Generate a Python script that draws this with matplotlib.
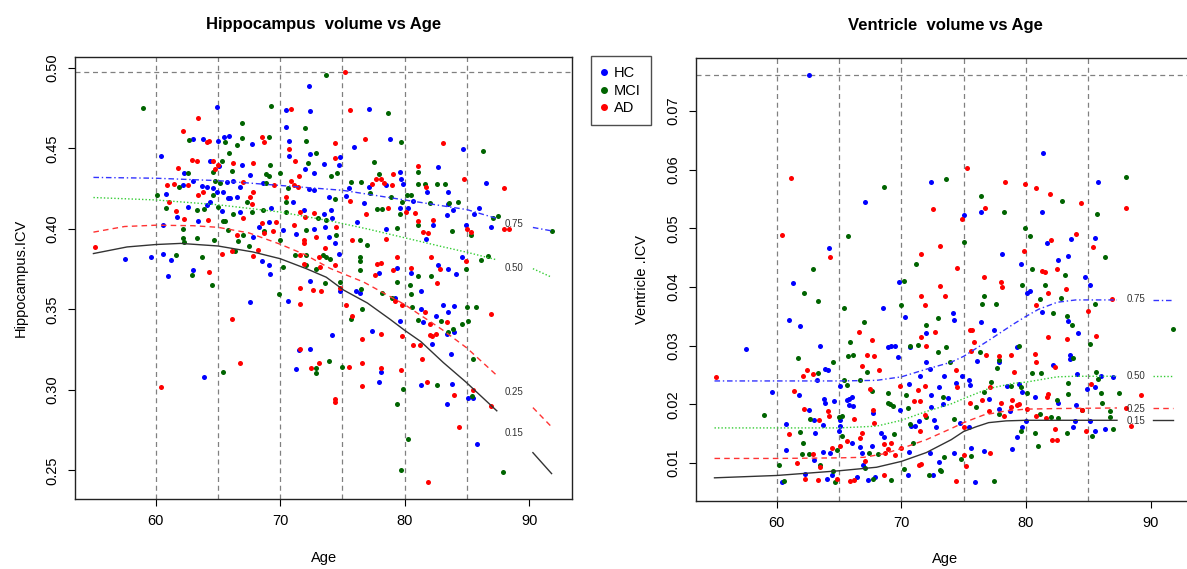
import numpy as np
import matplotlib
matplotlib.use("Agg")
import matplotlib.pyplot as plt
from matplotlib.lines import Line2D

plt.rcParams['font.family'] = ['Liberation Sans', 'DejaVu Sans']

# ---------------- Hippocampus panel data (age, volume/ICV) ----------------
hc_age_l = [64.9, 70.5, 72.3, 72.4, 70.5, 63.0, 63.8, 65.0, 65.5, 65.9, 67.7, 70.7, 70.7, 72.4, 60.4, 65.1,
            64.4, 66.9, 73.5, 62.3, 67.6, 72.0, 72.7, 62.2, 63.0, 63.7, 64.1, 64.6, 65.7, 66.2, 66.8, 68.6,
            72.3, 72.7, 60.8, 64.9, 65.4, 65.8, 66.0, 61.7, 62.6, 64.1, 63.4, 64.4, 65.3, 66.8, 69.3, 69.1,
            71.9, 60.6, 67.8, 70.2, 71.3, 72.7, 57.5, 59.6, 60.6, 61.2, 61.0, 63.0, 68.5, 69.1, 69.2, 68.3,
            66.5, 71.0,
            77.1, 75.9, 78.8, 84.7, 74.8, 74.7, 82.7, 79.6, 79.7, 79.9, 77.1, 78.5, 81.8, 83.5, 86.5, 75.5,
            73.9, 76.7, 79.6, 80.3, 80.7, 82.3, 83.4, 83.5, 83.9, 84.9, 85.6, 86.0, 86.9, 73.5, 74.1, 74.2,
            73.6, 73.9, 76.2, 78.5, 81.7, 84.6, 74.4, 74.7, 79.4, 82.7, 83.5, 84.1, 80.5, 77.9, 75.3,
            70.6, 72.4, 74.8, 76.1, 76.4, 79.2, 81.3, 81.3, 74.2, 77.4, 79.6, 81.5, 82.5, 83.5, 84.0, 83.1,
            82.2, 83.4, 84.0, 83.7, 71.5, 72.4, 71.3, 78.1, 77.9, 81.3, 83.8, 85.1, 85.5, 83.4, 85.8, 63.9,
            67.6]
hc_val_l = [0.4755, 0.474, 0.489, 0.473, 0.4635, 0.456, 0.456, 0.4545, 0.457, 0.458, 0.453, 0.4545, 0.445, 0.4465, 0.445, 0.439,
            0.442, 0.440, 0.4405, 0.4345, 0.4335, 0.437, 0.4345, 0.4273, 0.430, 0.4268, 0.426, 0.4256, 0.4293, 0.4297, 0.426, 0.4283,
            0.425, 0.424, 0.4214, 0.4227, 0.4231, 0.419, 0.4194, 0.4075, 0.4135, 0.4148, 0.405, 0.417, 0.4113, 0.4106, 0.4127, 0.4044,
            0.4115, 0.4023, 0.395, 0.3996, 0.397, 0.400, 0.3815, 0.3826, 0.3845, 0.381, 0.3707, 0.3743, 0.380, 0.3774, 0.3722, 0.4015,
            0.420, 0.4165,
            0.4744, 0.4512, 0.456, 0.4497, 0.4449, 0.4397, 0.4385, 0.4352, 0.431, 0.4281, 0.4262, 0.4273, 0.4227, 0.4231, 0.4287, 0.4256,
            0.420, 0.4158, 0.4131, 0.4131, 0.4175, 0.4027, 0.4085, 0.4154, 0.4117, 0.4023, 0.409, 0.4133, 0.4009, 0.409, 0.4117, 0.4065,
            0.4013, 0.395, 0.4044, 0.3998, 0.3936, 0.3826, 0.3913, 0.3842, 0.3759, 0.3778, 0.3753, 0.3718, 0.3724, 0.3728, 0.4205,
            0.3554, 0.3676, 0.3616, 0.3614, 0.360, 0.3568, 0.3502, 0.3616, 0.3344, 0.3365, 0.343, 0.3419, 0.346, 0.3481, 0.3521, 0.3525,
            0.3288, 0.335, 0.3357, 0.3226, 0.3247, 0.3255, 0.3128, 0.3112, 0.305, 0.3033, 0.3039, 0.2952, 0.2948, 0.2911, 0.2666, 0.3081,
            0.3548]

mci_age_l = [59.0, 69.3, 66.9, 72.0, 62.7, 65.6, 66.5, 66.9, 69.1, 72.1, 72.9, 65.9, 65.3, 69.2, 72.2, 62.6,
             64.6, 66.1, 68.9, 69.1, 70.0, 61.9, 64.8, 65.2, 68.9, 70.6, 60.1, 64.6, 67.3, 70.5, 60.8, 63.3,
             63.9, 65.0, 65.4, 65.6, 66.2, 67.7, 68.6, 70.5, 73.0, 73.7, 62.2, 62.2, 62.3, 63.3, 64.7, 65.8,
             67.0, 68.7, 70.0, 72.1, 61.6, 63.7, 62.9, 66.4, 67.5, 70.2, 71.2, 72.1, 73.7, 72.9, 72.1, 66.6,
             73.7, 78.7, 79.7, 86.3, 77.5, 81.1, 77.9, 74.6, 74.1, 75.7, 76.5, 81.1, 81.6, 82.6, 83.2, 74.4,
             77.2, 77.8, 78.2, 78.9, 79.6, 79.8, 80.2, 80.5, 81.1, 82.0, 84.3, 83.8, 85.3, 87.1, 87.5, 91.8,
             74.5, 76.4, 77.0, 79.4, 86.1, 86.7, 73.4, 74.0, 76.4, 76.4, 84.9, 76.4, 81.1, 82.1, 83.6,
             64.5, 69.9, 73.6, 74.8, 76.5, 78.2, 75.7, 76.6, 79.0, 79.4, 80.6, 80.4, 80.5, 81.1, 82.9, 85.0,
             85.7, 85.1, 84.6, 83.5, 83.9, 72.9, 72.9, 73.9, 75.0, 79.9, 82.6, 85.5, 85.4, 79.4, 80.3, 79.7,
             87.9, 65.4]
mci_val_l = [0.475, 0.4765, 0.466, 0.463, 0.455, 0.454, 0.452, 0.4565, 0.457, 0.4545, 0.447, 0.447, 0.442, 0.440, 0.441, 0.435,
             0.4356, 0.4358, 0.434, 0.433, 0.4347, 0.426, 0.430, 0.4283, 0.4283, 0.4255, 0.421, 0.421, 0.4169, 0.4169, 0.4127, 0.4117,
             0.4123, 0.4135, 0.405, 0.405, 0.409, 0.4106, 0.4115, 0.4106, 0.4065, 0.4058, 0.400, 0.3944, 0.392, 0.3944, 0.3934, 0.3992,
             0.396, 0.3985, 0.393, 0.3995, 0.384, 0.3826, 0.3716, 0.386, 0.3892, 0.3763, 0.3836, 0.3836, 0.3826, 0.3753, 0.3778, 0.3925,
             0.4954, 0.472, 0.4537, 0.4487, 0.4414, 0.4352, 0.4339, 0.435, 0.433, 0.4291, 0.4291, 0.4277, 0.4281, 0.4277, 0.4281, 0.4185,
             0.4225, 0.4121, 0.4121, 0.420, 0.4092, 0.4169, 0.421, 0.421, 0.4023, 0.4158, 0.4165, 0.399, 0.3961, 0.4069, 0.408, 0.3988,
             0.3961, 0.3934, 0.3903, 0.4007, 0.3809, 0.383, 0.3836, 0.3815, 0.3828, 0.3801, 0.3749, 0.3747, 0.3707, 0.3707, 0.416,
             0.365, 0.3595, 0.3666, 0.367, 0.3625, 0.360, 0.3438, 0.3504, 0.3568, 0.3672, 0.3517, 0.365, 0.3593, 0.3434, 0.3425, 0.3517,
             0.3517, 0.3429, 0.3407, 0.3357, 0.3378, 0.3137, 0.3106, 0.3178, 0.3143, 0.3004, 0.3033, 0.3189, 0.2962, 0.2911, 0.2693, 0.2504,
             0.2487, 0.311]

ad_age_l = [70.9, 63.4, 62.2, 64.1, 64.3, 68.5, 68.7, 70.7, 64.6, 62.9, 63.3, 66.2, 67.8, 71.2, 61.8, 64.8,
            65.0, 70.9, 71.5, 60.9, 61.5, 62.6, 67.0, 69.5, 71.1, 71.4, 63.4, 63.8, 67.8, 67.6, 70.5, 61.1,
            62.3, 61.6, 64.2, 67.0, 67.7, 68.5, 69.7, 71.6, 72.7, 72.0, 68.7, 69.4, 71.1, 71.9, 71.9, 72.9,
            55.1, 64.3, 65.3, 66.1, 67.8, 68.2, 71.9, 73.1, 73.2, 71.6, 66.5,
            75.2, 75.6, 74.4, 76.8, 83.1, 74.4, 81.1, 79.1, 78.1, 78.3, 77.7, 77.4, 79.0, 81.7, 84.8, 88.0,
            75.6, 78.7, 76.9, 80.1, 80.8, 81.1, 81.5, 81.9, 82.3, 85.0, 85.3, 88.0, 88.4, 75.8, 78.5, 73.6,
            74.4, 77.8, 78.1, 79.1, 79.4, 80.5, 82.1, 82.8, 77.6, 74.5, 84.9,
            71.6, 71.6, 72.6, 73.3, 74.8, 75.3, 75.8, 79.2, 79.8, 81.6, 82.6, 78.1, 76.6, 82.0, 83.4, 79.8,
            80.7, 81.2, 82.0, 82.2, 82.5, 86.9, 71.6, 72.5, 73.1, 75.5, 76.6, 76.6, 78.1, 79.7, 81.4, 81.8,
            85.5, 84.0, 86.9, 84.4, 81.9, 60.4, 66.8, 66.1, 74.4, 74.4]
ad_val_l = [0.4745, 0.469, 0.461, 0.454, 0.4545, 0.457, 0.454, 0.4495, 0.442, 0.443, 0.442, 0.441, 0.441, 0.4425, 0.4377, 0.437,
            0.440, 0.430, 0.433, 0.4275, 0.428, 0.4273, 0.4293, 0.4273, 0.4273, 0.4262, 0.421, 0.423, 0.4231, 0.420, 0.420, 0.4169,
            0.406, 0.411, 0.4057, 0.4065, 0.4154, 0.4034, 0.4044, 0.4106, 0.4096, 0.4073, 0.3975, 0.3988, 0.4023, 0.3934, 0.391, 0.395,
            0.3886, 0.3734, 0.3847, 0.386, 0.383, 0.3867, 0.3784, 0.3826, 0.3763, 0.3836, 0.396,
            0.4973, 0.4736, 0.4532, 0.456, 0.4532, 0.4439, 0.4393, 0.4341, 0.4308, 0.4287, 0.4308, 0.4277, 0.427, 0.4262, 0.4308, 0.4252,
            0.4175, 0.4131, 0.4092, 0.4106, 0.4096, 0.405, 0.3978, 0.3975, 0.4054, 0.4002, 0.3978, 0.4002, 0.3998, 0.393, 0.3936, 0.3884,
            0.3774, 0.378, 0.3786, 0.3747, 0.3826, 0.3759, 0.3826, 0.3749, 0.3716, 0.4015, 0.380,
            0.3533, 0.363, 0.362, 0.3616, 0.363, 0.3527, 0.3458, 0.3552, 0.3527, 0.3485, 0.3666, 0.335, 0.3319, 0.3407, 0.3419, 0.3336,
            0.3278, 0.3278, 0.3344, 0.3336, 0.3346, 0.3471, 0.3253, 0.3139, 0.3164, 0.3143, 0.3164, 0.3023, 0.3139, 0.3126, 0.3189, 0.305,
            0.2998, 0.2967, 0.2898, 0.2769, 0.2427, 0.3018, 0.317, 0.3438, 0.2946, 0.2923]

# centile curves (hippocampus)
q75_age_l = [55, 60, 65, 70, 75, 80, 85, 87.4]
q75_val_l = [0.432, 0.4315, 0.430, 0.427, 0.424, 0.418, 0.412, 0.4065]
q50_age_l = [55, 60, 65, 70, 74, 77, 80, 83, 85, 87.3]
q50_val_l = [0.4195, 0.418, 0.415, 0.4105, 0.405, 0.400, 0.3945, 0.389, 0.3855, 0.381]
q25_age_l = [55, 57.5, 60, 63, 65, 67.5, 70, 72, 74, 76.7, 80, 83, 85, 87.4]
q25_val_l = [0.398, 0.4015, 0.4023, 0.402, 0.401, 0.3975, 0.3905, 0.384, 0.3755, 0.367, 0.353, 0.3375, 0.326, 0.309]
q15_age_l = [55, 57.7, 60, 62, 65, 67.8, 70, 72.1, 73.7, 75.1, 77.0, 78.8, 80, 81.3, 83.1, 84.9, 87.4]
q15_val_l = [0.3847, 0.3888, 0.3903, 0.391, 0.3894, 0.3857, 0.3815, 0.3753, 0.370, 0.362, 0.354, 0.344, 0.337, 0.330, 0.317, 0.305, 0.287]
tail_age_l = [90.3, 91.8]
tail75_l = [0.4009, 0.3988]
tail50_l = [0.3753, 0.370]
tail25_l = [0.289, 0.277]
tail15_l = [0.261, 0.248]
lab_val_l = [0.403, 0.376, 0.2987, 0.273]

# ---------------- Ventricle panel data ----------------
hc_age_r = [62.6, 64.2, 67.1, 72.4, 75.0, 76.4, 78.1, 79.6, 81.4, 81.3, 81.7, 82.6, 83.4, 83.6, 85.8, 85.5, 84.7,
            57.5, 59.6, 61.3, 61.0, 61.9, 63.5, 63.9, 64.1, 63.2, 61.8, 62.6, 63.8, 63.9, 64.6, 63.0, 63.7,
            60.7, 63.1, 60.7, 63.0, 63.7, 60.4, 62.3, 64.0, 64.3, 65.0, 65.1, 65.1, 65.1, 65.6, 65.8, 66.0,
            65.8, 66.1, 67.7, 66.0, 66.7, 66.8, 66.9, 67.6, 66.4, 67.3, 67.9, 68.4, 68.6, 68.9, 69.2, 69.5,
            68.5, 69.8, 69.7, 70.6, 70.3, 72.0, 70.7, 72.0, 71.5, 72.3, 73.0, 72.4, 70.8, 71.1, 71.4, 72.6,
            72.8, 72.4, 70.6, 70.5, 72.5, 73.0, 72.3, 64.4, 69.9, 73.3,
            80.3, 80.1, 85.1, 81.3, 74.1, 74.2, 76.4, 77.4, 76.1, 77.8, 79.3, 73.4, 74.4, 74.9, 75.4, 75.5,
            77.0, 78.5, 79.4, 77.8, 78.7, 79.7, 80.7, 82.6, 82.2, 83.5, 83.5, 83.4, 84.2, 84.1, 84.0, 84.9,
            85.5, 87.0, 83.9, 83.8, 85.1, 85.5, 80.0, 79.7, 79.3, 78.9, 75.4, 74.7, 75.6, 76.6, 74.2, 75.9,
            73.7, 86.3, 86.0]
hc_val_r = [0.0761, 0.0466, 0.0545, 0.0579, 0.0523, 0.0528, 0.0456, 0.044, 0.0629, 0.0528, 0.0475, 0.0446, 0.0452, 0.0481, 0.0579, 0.0484, 0.0417,
            0.0295, 0.0221, 0.0406, 0.0343, 0.0334, 0.0299, 0.0261, 0.0259, 0.0241, 0.0216, 0.019, 0.021, 0.0203, 0.0205, 0.0173, 0.0165,
            0.0166, 0.0152, 0.0123, 0.0105, 0.0119, 0.0068, 0.0081, 0.0073, 0.0117, 0.0154, 0.0164, 0.0173, 0.0232, 0.0208, 0.021, 0.0212,
            0.0199, 0.0197, 0.0185, 0.0135, 0.0128, 0.0118, 0.0097, 0.013, 0.0076, 0.0071, 0.0077, 0.0152, 0.0145, 0.0298, 0.0299, 0.030,
            0.0364, 0.0408, 0.028, 0.0234, 0.0349, 0.0322, 0.0298, 0.0272, 0.0249, 0.026, 0.023, 0.0216, 0.0164, 0.0164, 0.0171, 0.0174,
            0.0162, 0.0196, 0.0119, 0.008, 0.0079, 0.0102, 0.0117, 0.008, 0.019, 0.020,
            0.0394, 0.0389, 0.0403, 0.0358, 0.0356, 0.0344, 0.0341, 0.0326, 0.0274, 0.0272, 0.0297, 0.0249, 0.0236, 0.0249, 0.0241, 0.0233,
            0.0209, 0.0231, 0.0234, 0.0193, 0.0189, 0.0221, 0.0212, 0.0202, 0.0267, 0.0284, 0.0277, 0.0342, 0.0321, 0.0252, 0.0199, 0.0226,
            0.023, 0.0247, 0.0171, 0.0162, 0.0171, 0.0154, 0.0171, 0.0162, 0.0145, 0.0124, 0.0162, 0.0168, 0.0125, 0.0121, 0.0117, 0.0068,
            0.0211, 0.0158, 0.0248]

mci_age_r = [62.9, 68.6, 65.7, 73.6, 71.2, 75.0, 76.4, 78.2, 79.9, 80.3, 80.5, 82.9, 83.1, 85.7, 86.3, 88.0,
             59.0, 62.2, 63.3, 61.7, 63.3, 64.5, 62.7, 61.9, 62.1, 62.0, 62.6, 60.2, 60.6, 63.5, 64.7, 64.8,
             65.2, 65.0, 65.2, 65.6, 65.4, 67.0, 65.9, 65.7, 66.1, 65.4, 67.2, 66.7, 67.6, 67.4, 67.1, 67.7,
             68.1, 69.2, 68.9, 69.1, 69.3, 68.9, 70.0, 70.2, 70.4, 70.5, 70.7, 72.9, 72.0, 71.3, 72.9, 73.6,
             73.3, 70.7, 70.9, 70.2, 72.2, 73.2, 64.5, 69.4, 72.0,
             76.6, 76.5, 77.6, 79.7, 81.5, 81.1, 82.8, 85.5, 82.2, 76.3, 77.8, 77.7, 79.4, 73.9, 76.6, 77.2,
             78.8, 79.6, 77.8, 80.1, 81.1, 82.0, 82.6, 82.5, 83.4, 81.2, 80.5, 83.8, 83.7, 83.3, 85.1, 85.6,
             83.4, 85.8, 86.0, 86.1, 86.7, 87.5, 91.8, 86.7, 83.3, 85.3, 87.0, 80.7, 81.0, 79.6, 75.6, 77.4,
             74.8, 73.4, 73.1, 74.2, 76.0, 84.5]
mci_val_r = [0.0431, 0.057, 0.0487, 0.0584, 0.044, 0.0477, 0.0555, 0.0528, 0.050, 0.0487, 0.0431, 0.0547, 0.0421, 0.0524, 0.0451, 0.0588,
             0.0182, 0.0389, 0.0377, 0.0279, 0.0254, 0.0273, 0.0176, 0.0153, 0.0134, 0.0115, 0.0116, 0.0096, 0.0069, 0.0097, 0.0068, 0.0123,
             0.0146, 0.0179, 0.0181, 0.0233, 0.0241, 0.0341, 0.0307, 0.0282, 0.0284, 0.0364, 0.0256, 0.0241, 0.0223, 0.0117, 0.0092, 0.0073,
             0.0116, 0.0072, 0.0202, 0.020, 0.0198, 0.0219, 0.037, 0.0411, 0.0216, 0.0194, 0.030, 0.0347, 0.0336, 0.0301, 0.0289, 0.0298,
             0.0213, 0.0166, 0.0134, 0.009, 0.008, 0.0086, 0.0086, 0.015, 0.0178,
             0.0385, 0.0371, 0.0371, 0.0403, 0.0404, 0.038, 0.0381, 0.0371, 0.0356, 0.029, 0.0276, 0.0262, 0.030, 0.0272, 0.0221, 0.0238,
             0.0231, 0.023, 0.0184, 0.022, 0.0183, 0.0178, 0.0177, 0.0207, 0.0217, 0.0254, 0.0254, 0.0279, 0.0336, 0.0351, 0.0303, 0.0256,
             0.0236, 0.0243, 0.0219, 0.0203, 0.0189, 0.022, 0.0329, 0.0178, 0.0151, 0.0147, 0.0158, 0.0151, 0.0129, 0.0154, 0.0113, 0.007,
             0.0107, 0.011, 0.0088, 0.0175, 0.0195, 0.019]

ad_age_r = [61.1, 60.4, 64.3, 72.5, 71.6, 73.1, 74.5, 75.3, 74.9, 76.7, 76.6, 78.3, 79.9, 79.8, 80.8, 81.9,
            82.0, 81.3, 81.5, 82.5, 84.0, 84.4, 85.4, 88.0,
            55.1, 62.4, 62.9, 62.1, 61.4, 62.2, 64.1, 64.2, 63.4, 61.0, 62.9, 61.6, 62.3, 63.3, 63.5, 64.8,
            64.4, 66.2, 66.6, 67.6, 67.2, 67.8, 66.8, 68.2, 67.5, 67.7, 65.6, 65.1, 66.7, 66.8, 67.1, 65.9,
            66.2, 68.6, 68.7, 68.6, 68.9, 69.5, 69.2, 67.8, 69.9, 71.0, 71.6, 71.9, 73.1, 71.6, 72.7, 71.9,
            71.3, 71.5, 71.9, 71.5, 71.4, 71.6, 73.5, 70.0, 72.0,
            78.0, 78.1, 83.2, 81.8, 85.0, 86.9, 80.8, 75.5, 75.7, 75.8, 76.8, 75.6, 77.8, 79.0, 78.8, 74.4,
            74.5, 75.5, 76.5, 77.1, 78.9, 78.0, 77.0, 78.8, 79.3, 79.4, 80.1, 81.7, 81.8, 81.6, 80.8, 80.7,
            81.8, 83.3, 82.3, 85.6, 85.2, 89.2, 88.0, 88.4, 84.8, 82.3, 82.1, 82.5, 78.2, 75.0, 77.1, 75.0,
            75.2, 74.4, 84.5, 80.8]
ad_val_r = [0.0586, 0.0489, 0.0451, 0.0533, 0.0456, 0.047, 0.0432, 0.0602, 0.0516, 0.0535, 0.0417, 0.0579, 0.0575, 0.0461, 0.0569, 0.0558,
            0.048, 0.0428, 0.0426, 0.0431, 0.049, 0.0543, 0.0468, 0.0535,
            0.0247, 0.0259, 0.0251, 0.0249, 0.0223, 0.0192, 0.0188, 0.0181, 0.0173, 0.015, 0.0116, 0.010, 0.0073, 0.0072, 0.0093, 0.0073,
            0.0125, 0.0175, 0.0324, 0.0309, 0.0285, 0.0282, 0.0266, 0.0258, 0.0227, 0.019, 0.0137, 0.013, 0.0142, 0.0151, 0.0103, 0.0069,
            0.0071, 0.008, 0.0117, 0.0132, 0.0124, 0.0114, 0.0135, 0.0168, 0.0231, 0.0206, 0.0384, 0.037, 0.0401, 0.0315, 0.0324, 0.0231,
            0.0224, 0.0205, 0.0182, 0.0155, 0.0096, 0.0098, 0.0384, 0.0125, 0.030,
            0.0408, 0.040, 0.0397, 0.039, 0.0359, 0.0379, 0.0369, 0.0326, 0.0326, 0.0306, 0.0285, 0.0291, 0.0283, 0.0256, 0.0284, 0.0259,
            0.023, 0.0202, 0.0208, 0.023, 0.0208, 0.0202, 0.0188, 0.0196, 0.0199, 0.0201, 0.0193, 0.0213, 0.0217, 0.0177, 0.0272, 0.0286,
            0.0315, 0.0312, 0.0263, 0.0316, 0.0234, 0.0216, 0.0194, 0.0163, 0.0154, 0.0159, 0.014, 0.0139, 0.018, 0.0162, 0.0117, 0.0114,
            0.0095, 0.0069, 0.019, 0.018]

# centile curves (ventricle)
q75_age_r = [55, 60, 65, 68, 70, 72, 74, 75, 77, 79, 80, 81, 82.5, 84, 87.3]
q75_val_r = [0.0240, 0.0240, 0.0240, 0.0241, 0.0247, 0.0260, 0.0272, 0.0282, 0.0309, 0.0337, 0.0350, 0.0362, 0.0374, 0.0378, 0.0378]
q50_age_r = [55, 60, 65, 68, 70, 72, 74, 75, 77, 79, 80, 82.5, 84, 87.3]
q50_val_r = [0.0160, 0.0160, 0.0160, 0.0163, 0.0173, 0.0188, 0.0201, 0.0210, 0.0227, 0.0236, 0.0238, 0.0247, 0.0248, 0.0248]
q25_age_r = [55, 60, 65, 67, 68.6, 70, 72, 74, 75, 76.6, 78.4, 80, 82.5, 87.3]
q25_val_r = [0.0108, 0.0108, 0.0109, 0.0110, 0.0116, 0.0125, 0.0140, 0.0159, 0.0169, 0.0182, 0.0189, 0.0192, 0.0193, 0.0194]
q15_age_r = [55, 60, 65, 68, 70, 72, 74, 75, 76, 77, 78.4, 80, 87.3]
q15_val_r = [0.0075, 0.0079, 0.0087, 0.0093, 0.0103, 0.0118, 0.0140, 0.0154, 0.0162, 0.0169, 0.0172, 0.0173, 0.0173]
tail_age_r = [90.2, 91.8]
tail75_r = [0.0378, 0.0378]
tail50_r = [0.0248, 0.0248]
tail25_r = [0.0194, 0.0194]
tail15_r = [0.0173, 0.0173]
lab_val_r = [0.0379, 0.0248, 0.0192, 0.0172]

lab_age = 88.8
lab_text = ["0.75", "0.50", "0.25", "0.15"]

# colours / styles
c_hc, c_mci, c_ad = "#0000ff", "#006400", "#ff0000"
line_styles = [("#3333ff", (0, (4, 2, 1, 2))),
               ("#33cc33", (0, (1, 1.5))),
               ("#ff3333", (0, (4, 3))),
               ("#333333", "-")]
grid_col = "#808080"


def draw_panel(ax, groups, curves, tails, tail_age, lab_vals, title, ylabel, yticks, ylim, yfmt):
    for age, val, col in groups:
        ax.scatter(age, val, s=13, color=col, linewidths=0, zorder=3)
    for (a, v), (lc, ls) in zip(curves, line_styles):
        ax.plot(a, v, color=lc, linestyle=ls, lw=1.0, zorder=4)
    for tv, (lc, ls) in zip(tails, line_styles):
        ax.plot(tail_age, tv, color=lc, linestyle=ls, lw=1.0, zorder=4)
    for lv, t in zip(lab_vals, lab_text):
        ax.text(lab_age, lv, t, fontsize=7, color="#333333", ha="center", va="center", zorder=5)
    for gx in [60, 65, 70, 75, 80, 85]:
        ax.axvline(gx, color=grid_col, lw=0.9, linestyle=(0, (4, 3)), zorder=1)
    ymax = max(max(g[1]) for g in groups)
    ax.axhline(ymax, color=grid_col, lw=0.9, linestyle=(0, (4, 3)), zorder=1)

    ax.set_xlim(53.52, 93.48)
    ax.set_ylim(*ylim)
    ax.set_xticks([60, 70, 80, 90])
    ax.set_yticks(yticks)
    ax.set_yticklabels([yfmt % y for y in yticks], rotation=90, va="center")
    ax.tick_params(axis="both", direction="out", length=5, width=0.8, labelsize=10.5, pad=6)
    for sp in ax.spines.values():
        sp.set_linewidth(1.0)
        sp.set_color("#222222")
    ax.set_title(title, fontsize=12, fontweight="bold", pad=20)
    ax.set_xlabel("Age", fontsize=10.5, labelpad=16)
    ax.set_ylabel(ylabel, fontsize=10.5, labelpad=13)


fig = plt.figure(figsize=(11.87, 5.69), dpi=100)
ax1 = fig.add_axes([0.0632, 0.1230, 0.4191, 0.7768])
ax2 = fig.add_axes([0.5864, 0.1200, 0.4195, 0.7780])

draw_panel(ax1,
           [(hc_age_l, hc_val_l, c_hc), (mci_age_l, mci_val_l, c_mci), (ad_age_l, ad_val_l, c_ad)],
           [(q75_age_l, q75_val_l), (q50_age_l, q50_val_l), (q25_age_l, q25_val_l), (q15_age_l, q15_val_l)],
           [tail75_l, tail50_l, tail25_l, tail15_l], tail_age_l, lab_val_l,
           "Hippocampus  volume vs Age", "Hippocampus.ICV",
           [0.25, 0.30, 0.35, 0.40, 0.45, 0.50], (0.2322, 0.5068), "%.2f")

draw_panel(ax2,
           [(hc_age_r, hc_val_r, c_hc), (mci_age_r, mci_val_r, c_mci), (ad_age_r, ad_val_r, c_ad)],
           [(q75_age_r, q75_val_r), (q50_age_r, q50_val_r), (q25_age_r, q25_val_r), (q15_age_r, q15_val_r)],
           [tail75_r, tail50_r, tail25_r, tail15_r], tail_age_r, lab_val_r,
           "Ventricle  volume vs Age", "Ventricle .ICV",
           [0.01, 0.02, 0.03, 0.04, 0.05, 0.06, 0.07], (0.0036, 0.0790), "%.2f")

# legend between the two panels
handles = [Line2D([], [], marker="o", linestyle="none", markersize=4, color=c)
           for c in [c_hc, c_mci, c_ad]]
leg = fig.legend(handles, ["HC", "MCI", "AD"], loc="upper left",
                 bbox_to_anchor=(0.4975, 0.902), fontsize=10.5, frameon=True,
                 fancybox=False, handlelength=0.5, handletextpad=0.4,
                 borderpad=0.7, labelspacing=0.25, borderaxespad=0)
leg.get_frame().set_edgecolor("#222222")
leg.get_frame().set_linewidth(1.0)

fig.savefig("out.png", dpi=100)
